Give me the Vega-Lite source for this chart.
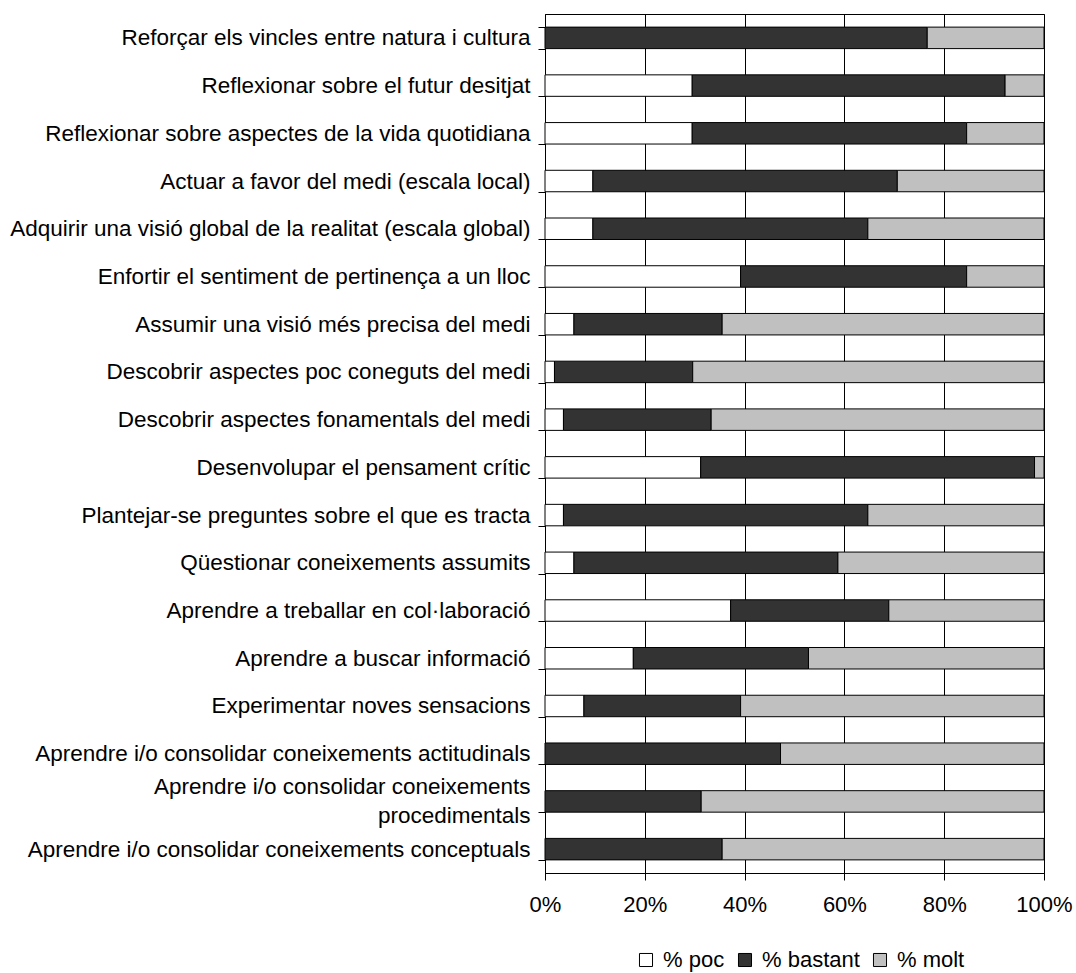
{
  "$schema": "https://vega.github.io/schema/vega-lite/v6.json",
  "autosize": {"type": "none"},
  "padding": {"left": 545, "top": 14, "right": 32, "bottom": 100},
  "width": 499,
  "height": 859,
  "background": "white",
  "config": {
    "font": "Liberation Sans",
    "view": {"stroke": "#000000", "strokeWidth": 1}
  },
  "data": {
    "values": [
      {"cat": "Reforçar els vincles entre natura i cultura", "serie": "% bastant", "pct": 76.6},
      {"cat": "Reforçar els vincles entre natura i cultura", "serie": "% molt", "pct": 23.4},
      {"cat": "Reflexionar sobre el futur desitjat", "serie": "% poc", "pct": 29.5},
      {"cat": "Reflexionar sobre el futur desitjat", "serie": "% bastant", "pct": 62.7},
      {"cat": "Reflexionar sobre el futur desitjat", "serie": "% molt", "pct": 7.8},
      {"cat": "Reflexionar sobre aspectes de la vida quotidiana", "serie": "% poc", "pct": 29.5},
      {"cat": "Reflexionar sobre aspectes de la vida quotidiana", "serie": "% bastant", "pct": 55.0},
      {"cat": "Reflexionar sobre aspectes de la vida quotidiana", "serie": "% molt", "pct": 15.5},
      {"cat": "Actuar a favor del medi (escala local)", "serie": "% poc", "pct": 9.6},
      {"cat": "Actuar a favor del medi (escala local)", "serie": "% bastant", "pct": 61.0},
      {"cat": "Actuar a favor del medi (escala local)", "serie": "% molt", "pct": 29.4},
      {"cat": "Adquirir una visió global de la realitat (escala global)", "serie": "% poc", "pct": 9.6},
      {"cat": "Adquirir una visió global de la realitat (escala global)", "serie": "% bastant", "pct": 55.1},
      {"cat": "Adquirir una visió global de la realitat (escala global)", "serie": "% molt", "pct": 35.3},
      {"cat": "Enfortir el sentiment de pertinença a un lloc", "serie": "% poc", "pct": 39.2},
      {"cat": "Enfortir el sentiment de pertinença a un lloc", "serie": "% bastant", "pct": 45.3},
      {"cat": "Enfortir el sentiment de pertinença a un lloc", "serie": "% molt", "pct": 15.5},
      {"cat": "Assumir una visió més precisa del medi", "serie": "% poc", "pct": 5.8},
      {"cat": "Assumir una visió més precisa del medi", "serie": "% bastant", "pct": 29.7},
      {"cat": "Assumir una visió més precisa del medi", "serie": "% molt", "pct": 64.5},
      {"cat": "Descobrir aspectes poc coneguts del medi", "serie": "% poc", "pct": 1.9},
      {"cat": "Descobrir aspectes poc coneguts del medi", "serie": "% bastant", "pct": 27.7},
      {"cat": "Descobrir aspectes poc coneguts del medi", "serie": "% molt", "pct": 70.4},
      {"cat": "Descobrir aspectes fonamentals del medi", "serie": "% poc", "pct": 3.7},
      {"cat": "Descobrir aspectes fonamentals del medi", "serie": "% bastant", "pct": 29.6},
      {"cat": "Descobrir aspectes fonamentals del medi", "serie": "% molt", "pct": 66.7},
      {"cat": "Desenvolupar el pensament crític", "serie": "% poc", "pct": 31.2},
      {"cat": "Desenvolupar el pensament crític", "serie": "% bastant", "pct": 66.9},
      {"cat": "Desenvolupar el pensament crític", "serie": "% molt", "pct": 1.9},
      {"cat": "Plantejar-se preguntes sobre el que es tracta", "serie": "% poc", "pct": 3.7},
      {"cat": "Plantejar-se preguntes sobre el que es tracta", "serie": "% bastant", "pct": 61.0},
      {"cat": "Plantejar-se preguntes sobre el que es tracta", "serie": "% molt", "pct": 35.3},
      {"cat": "Qüestionar coneixements assumits", "serie": "% poc", "pct": 5.8},
      {"cat": "Qüestionar coneixements assumits", "serie": "% bastant", "pct": 52.9},
      {"cat": "Qüestionar coneixements assumits", "serie": "% molt", "pct": 41.3},
      {"cat": "Aprendre a treballar en col·laboració", "serie": "% poc", "pct": 37.2},
      {"cat": "Aprendre a treballar en col·laboració", "serie": "% bastant", "pct": 31.7},
      {"cat": "Aprendre a treballar en col·laboració", "serie": "% molt", "pct": 31.1},
      {"cat": "Aprendre a buscar informació", "serie": "% poc", "pct": 17.7},
      {"cat": "Aprendre a buscar informació", "serie": "% bastant", "pct": 35.1},
      {"cat": "Aprendre a buscar informació", "serie": "% molt", "pct": 47.2},
      {"cat": "Experimentar noves sensacions", "serie": "% poc", "pct": 7.8},
      {"cat": "Experimentar noves sensacions", "serie": "% bastant", "pct": 31.4},
      {"cat": "Experimentar noves sensacions", "serie": "% molt", "pct": 60.8},
      {"cat": "Aprendre i/o consolidar coneixements actitudinals", "serie": "% bastant", "pct": 47.2},
      {"cat": "Aprendre i/o consolidar coneixements actitudinals", "serie": "% molt", "pct": 52.8},
      {"cat": "Aprendre i/o consolidar coneixements procedimentals", "serie": "% bastant", "pct": 31.3},
      {"cat": "Aprendre i/o consolidar coneixements procedimentals", "serie": "% molt", "pct": 68.7},
      {"cat": "Aprendre i/o consolidar coneixements conceptuals", "serie": "% bastant", "pct": 35.5},
      {"cat": "Aprendre i/o consolidar coneixements conceptuals", "serie": "% molt", "pct": 64.5}
    ]
  },
  "transform": [
    {"calculate": "indexof(['% poc', '% bastant', '% molt'], datum.serie)", "as": "stackOrder"}
  ],
  "mark": {"type": "bar", "stroke": "#000000", "strokeWidth": 1},
  "encoding": {
    "y": {
      "field": "cat",
      "type": "nominal",
      "sort": null,
      "title": null,
      "scale": {"paddingInner": 0.55, "paddingOuter": 0.275},
      "axis": {
        "tickBand": "extent",
        "tickSize": 7,
        "tickColor": "#000000",
        "domainColor": "#000000",
        "labelPadding": 8,
        "labelFontSize": 22.5,
        "labelColor": "#000000",
        "labelLimit": 0,
        "labelLineHeight": 29,
        "labelOffset": {"condition": {"test": "datum.value == 'Aprendre i/o consolidar coneixements procedimentals'", "value": -14.5}, "value": 0},
        "labelExpr": "datum.value == 'Aprendre i/o consolidar coneixements procedimentals' ? ['Aprendre i/o consolidar coneixements', 'procedimentals'] : datum.value",
        "grid": false
      }
    },
    "x": {
      "field": "pct",
      "type": "quantitative",
      "stack": "normalize",
      "title": null,
      "scale": {"domain": [0, 1], "nice": false},
      "axis": {
        "values": [0, 0.2, 0.4, 0.6, 0.8, 1],
        "format": ".0%",
        "tickSize": 7,
        "tickColor": "#000000",
        "domainColor": "#000000",
        "gridColor": "#000000",
        "gridOpacity": 1,
        "labelPadding": 14,
        "labelFontSize": 22,
        "labelColor": "#000000",
        "labelFlush": false
      }
    },
    "color": {
      "field": "serie",
      "type": "nominal",
      "sort": ["% poc", "% bastant", "% molt"],
      "scale": {"domain": ["% poc", "% bastant", "% molt"], "range": ["#ffffff", "#333333", "#c0c0c0"]},
      "legend": {
        "title": null,
        "orient": "none",
        "direction": "horizontal",
        "legendX": 90,
        "legendY": 935,
        "symbolType": "square",
        "symbolSize": 170,
        "symbolStrokeColor": "#000000",
        "symbolStrokeWidth": 1,
        "symbolOpacity": 1,
        "labelFontSize": 22,
        "labelColor": "#000000",
        "labelOffset": 6,
        "columnPadding": 9
      }
    },
    "order": {"field": "stackOrder", "type": "quantitative", "sort": "ascending"}
  }
}
